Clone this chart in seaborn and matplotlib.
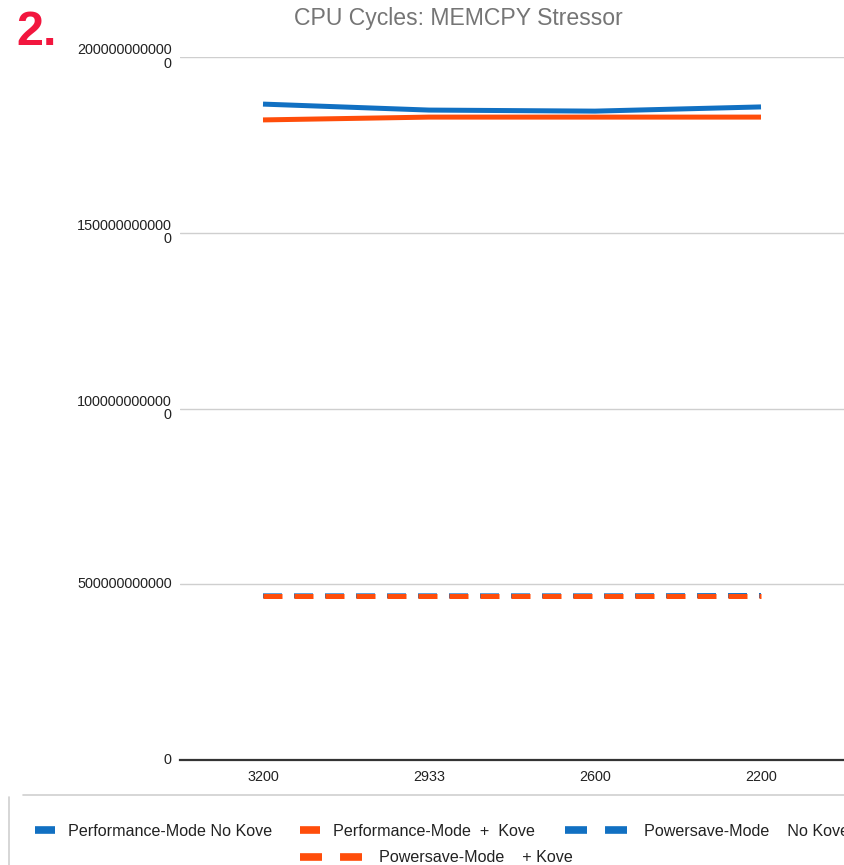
import matplotlib
matplotlib.use("Agg")
import matplotlib.pyplot as plt
import seaborn as sns
import pandas as pd
from matplotlib.lines import Line2D

# ---------------- data ----------------
freqs = ["3200", "2933", "2600", "2200"]
perf_no_kove = [1.866e12, 1.849e12, 1.846e12, 1.858e12]
perf_kove = [1.821e12, 1.829e12, 1.829e12, 1.829e12]
psave_no_kove = [4.67e11, 4.67e11, 4.67e11, 4.68e11]
psave_kove = [4.665e11, 4.665e11, 4.665e11, 4.665e11]

series_names = [
    "Performance-Mode No Kove",
    "Performance-Mode  +  Kove",
    "Powersave-Mode    No Kove",
    "Powersave-Mode    + Kove",
]
series_values = [perf_no_kove, perf_kove, psave_no_kove, psave_kove]

ytick_values = [0, 5e11, 1e12, 1.5e12, 2e12]
ytick_labels = ["0", "500000000000", "100000000000\n0", "150000000000\n0", "200000000000\n0"]

title = "CPU Cycles: MEMCPY Stressor"

# ---------------- styles ----------------
BLUE = "#1170c2"
ORANGE = "#ff4d0a"
colors = [BLUE, ORANGE, BLUE, ORANGE]
is_dashed = [False, False, True, True]

sns.set_style("white")
plt.rcParams["font.family"] = ["Liberation Sans", "DejaVu Sans"]

W, H = 844, 865
fig = plt.figure(figsize=(W / 100, H / 100), dpi=100)
ax = fig.add_axes([180 / W, 1 - 760 / H, 1 - 180 / W, (760 - 57) / H])

rows = []
for name, vals in zip(series_names, series_values):
    for f, v in zip(freqs, vals):
        rows.append({"freq": f, "cycles": v, "series": name})
df = pd.DataFrame(rows)

palette = dict(zip(series_names, colors))
dashes = {n: ((3.8, 2.4) if d else "") for n, d in zip(series_names, is_dashed)}

sns.lineplot(
    data=df, x="freq", y="cycles", hue="series", style="series",
    hue_order=series_names, style_order=series_names,
    palette=palette, dashes=dashes, linewidth=3.6, sort=False,
    legend=False, ax=ax,
)
for ln in ax.get_lines():
    ln.set_solid_capstyle("butt")
    ln.set_dash_capstyle("butt")
    ln.set_solid_joinstyle("round")

ax.set_xlim(-0.5, 3.5)
ax.set_ylim(0, 2e12)
ax.set_xlabel("")
ax.set_ylabel("")
ax.set_yticks(ytick_values, ytick_labels)
ax.yaxis.grid(True, color="#cfcfcf", linewidth=1.0)
ax.xaxis.grid(False)
for s in ["left", "right", "top"]:
    ax.spines[s].set_visible(False)
ax.spines["bottom"].set_color("#333333")
ax.spines["bottom"].set_linewidth(1.6)
ax.spines["bottom"].set_zorder(5)
ax.tick_params(axis="y", length=0, pad=6, labelsize=10.4, labelcolor="#222222")
ax.tick_params(axis="x", length=0, pad=7, labelsize=10.4, labelcolor="#222222")
for lab in ax.get_yticklabels():
    lab.set_verticalalignment("center")
    lab.set_linespacing(0.95)

# title and badge
fig.text(458 / W, 1 - 19 / H, title, ha="center", va="center",
         fontsize=16.6, color="#757575")
fig.text(16 / W, 1 - 45 / H, "2.", ha="left", va="baseline",
         fontsize=35, fontweight="bold", color="#f2163e")

# legend frame lines
fig.add_artist(Line2D([23 / W, 1.0], [1 - 795 / H, 1 - 795 / H],
                      transform=fig.transFigure, color="#d0d0d0", lw=1.2))
fig.add_artist(Line2D([9 / W, 9 / W], [1 - 797 / H, 0],
                      transform=fig.transFigure, color="#d0d0d0", lw=1.2))

# legend entries (one small legend per entry, laid out like the original)
leg_fs = 11.6
leg_pos = [(35, 831), (300, 831), (565, 831), (300, 858)]
for name, col, dsh, (lx, ly) in zip(series_names, colors, is_dashed, leg_pos):
    if dsh:
        h = Line2D([], [], color=col, lw=5.5, dashes=(2.88, 2.36),
                   dash_capstyle="butt")
        hl, tp = 3.85, 1.05
    else:
        h = Line2D([], [], color=col, lw=5.5, solid_capstyle="butt")
        hl, tp = 1.24, 0.82
    fig.legend(handles=[h], labels=[name], loc="center left",
               bbox_to_anchor=(lx / W, 1 - ly / H), frameon=False,
               borderpad=0, borderaxespad=0, handlelength=hl,
               handletextpad=tp, fontsize=leg_fs, labelcolor="#222222")

fig.savefig("out.png", dpi=100, facecolor="white")
